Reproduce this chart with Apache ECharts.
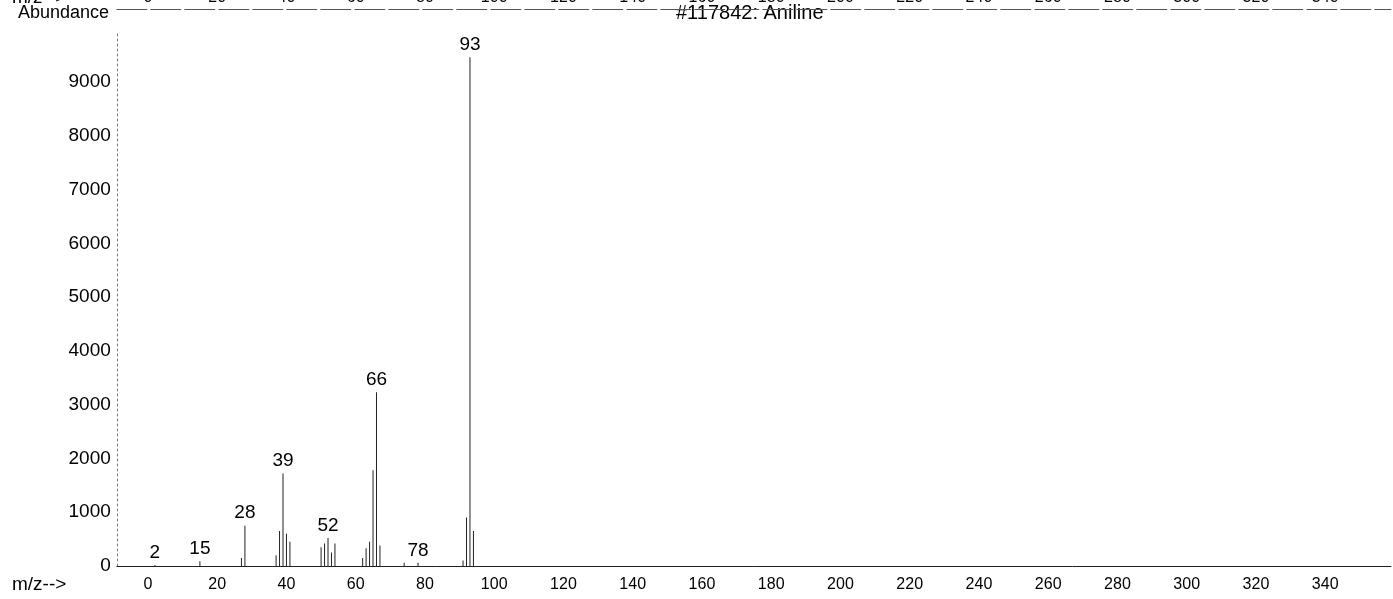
<!DOCTYPE html>
<html>
<head>
<meta charset="utf-8">
<script src="https://cdn.jsdelivr.net/npm/echarts@6/dist/echarts.min.js"></script>
<style>
html,body{margin:0;padding:0;background:#fff;}
#c{width:1393px;height:599px;}
</style>
</head>
<body>
<div id="c"></div>
<script>
// Data
const mzValues   = [2, 15, 27, 28, 37, 38, 39, 40, 41, 50, 51, 52, 53, 54, 62, 63, 64, 65, 66, 67, 74, 78, 91, 92, 93, 94];
const abundances = [20, 90, 150, 750, 200, 650, 1720, 600, 450, 350, 420, 520, 250, 420, 150, 330, 450, 1780, 3230, 380, 60, 60, 100, 900, 9460, 650];
const labeledPeaks = [2, 15, 28, 39, 52, 66, 78, 93];
const xTicks = [0, 20, 40, 60, 80, 100, 120, 140, 160, 180, 200, 220, 240, 260, 280, 300, 320, 340];
const yTicks = [0, 1000, 2000, 3000, 4000, 5000, 6000, 7000, 8000, 9000];
const titleText = "#117842: Aniline";
const yAxisTitle = "Abundance";
const xAxisTitle = "m/z-->";

const FONT = "Liberation Sans";
const chart = echarts.init(document.getElementById('c'), null, {renderer: 'canvas'});

const peakData = mzValues.map((mz, i) => {
  const item = {value: [mz, abundances[i]]};
  if (labeledPeaks.includes(mz)) {
    item.label = {show: true};
  }
  return item;
});

chart.setOption({
  animation: false,
  backgroundColor: '#ffffff',
  textStyle: {fontFamily: FONT},
  grid: [
    {left: 116.8, right: 2, top: 33.6, bottom: 33, containLabel: false},
    {left: 116.8, right: 2, top: 8, height: 1, containLabel: false}
  ],
  xAxis: [
    {
      type: 'value', gridIndex: 0, min: -9, max: 359,
      axisLine: {show: true, onZero: false, lineStyle: {color: '#222', width: 1}},
      axisTick: {show: false},
      splitLine: {show: false},
      axisLabel: {
        customValues: xTicks, color: '#000', fontSize: 16, fontFamily: FONT, margin: 11
      }
    },
    {
      type: 'value', gridIndex: 1, min: -9, max: 359, position: 'top',
      axisLine: {show: true, onZero: false, lineStyle: {color: '#555', width: 1, type: [30, 4]}},
      axisTick: {show: false},
      splitLine: {show: false},
      axisLabel: {
        customValues: xTicks, color: '#000', fontSize: 16, fontFamily: FONT, margin: 3
      }
    }
  ],
  yAxis: [
    {
      type: 'value', gridIndex: 0, min: 0, max: 9900, interval: 1000,
      axisLine: {show: true, onZero: false, lineStyle: {color: '#777', width: 1, type: [2, 3]}},
      axisTick: {show: false},
      splitLine: {show: false},
      axisLabel: {
        color: '#000', fontSize: 19, fontFamily: FONT, margin: 6,
        formatter: v => (yTicks.includes(v) ? String(v) : '')
      }
    },
    {
      type: 'value', gridIndex: 1, min: 0, max: 1, show: false
    }
  ],
  graphic: [
    {type: 'text', left: 18, top: 4, style: {text: yAxisTitle, font: '18px "Liberation Sans"', fill: '#000'}},
    {type: 'text', left: 676, top: 3, style: {text: titleText, font: '20px "Liberation Sans"', fill: '#000'}},
    {type: 'text', left: 12, top: 575, style: {text: xAxisTitle, font: '19px "Liberation Sans"', fill: '#000'}},
    {type: 'text', left: 12, top: -12, style: {text: xAxisTitle, font: '19px "Liberation Sans"', fill: '#000'}}
  ],
  series: [
    {
      type: 'bar',
      xAxisIndex: 0, yAxisIndex: 0,
      barWidth: 1,
      barGap: '-100%',
      itemStyle: {color: '#222'},
      label: {
        show: false, position: 'top', distance: 3, color: '#000', fontSize: 19, fontFamily: FONT,
        formatter: p => String(p.value[0])
      },
      data: peakData
    }
  ]
});
</script>
</body>
</html>
